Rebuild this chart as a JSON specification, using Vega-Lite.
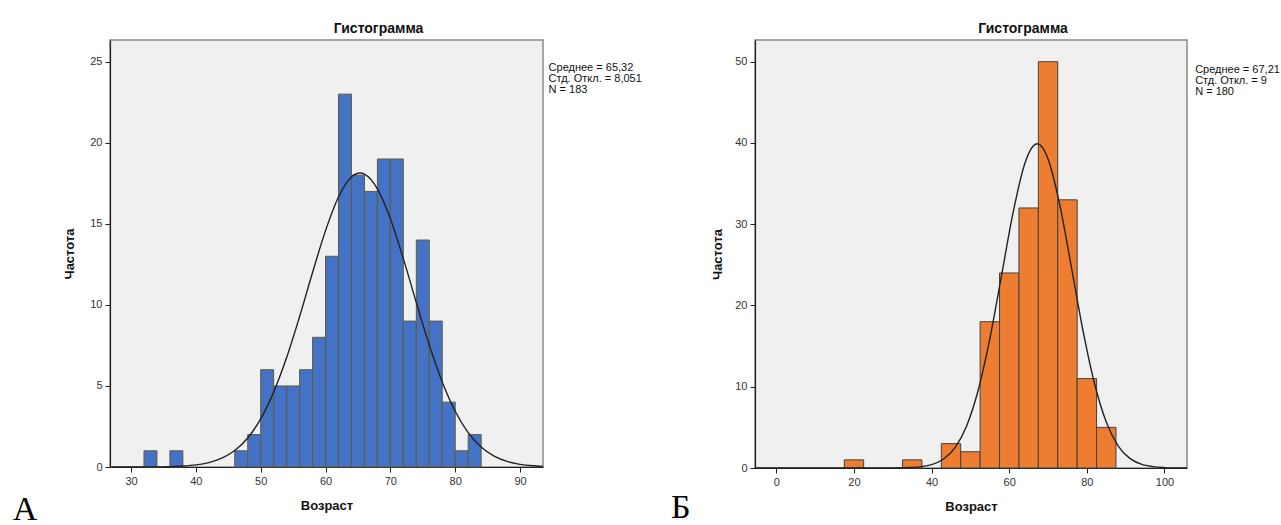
{
  "$schema": "https://vega.github.io/schema/vega-lite/v6.json",
  "padding": {"left": 12, "top": 21, "right": 5, "bottom": 0},
  "bounds": "flush",
  "spacing": 212,
  "config": {
    "font": "Liberation Sans",
    "view": {"fill": "#F0F0F0", "stroke": "#8a8a8a", "strokeWidth": 1.5},
    "axis": {"grid": false, "domainColor": "#222222", "tickColor": "#222222", "labelColor": "#333333", "labelFontSize": 11, "labelFont": "Liberation Sans", "titleFont": "Liberation Sans", "titleFontSize": 13, "titleFontWeight": "bold", "titleColor": "#111111", "tickSize": 5, "labelPadding": 3, "domainWidth": 1.2},
    "title": {"font": "Liberation Sans", "fontSize": 14, "fontWeight": "bold", "color": "#111111"}
  },
  "hconcat": [
    {
      "width": 433,
      "height": 427,
      "title": {"text": "Гистограмма", "dx": 52, "offset": 4},
      "layer": [
        {
          "data": {"values": [
            {"bin_start": 32, "bin_end": 34, "count": 1},
            {"bin_start": 36, "bin_end": 38, "count": 1},
            {"bin_start": 46, "bin_end": 48, "count": 1},
            {"bin_start": 48, "bin_end": 50, "count": 2},
            {"bin_start": 50, "bin_end": 52, "count": 6},
            {"bin_start": 52, "bin_end": 54, "count": 5},
            {"bin_start": 54, "bin_end": 56, "count": 5},
            {"bin_start": 56, "bin_end": 58, "count": 6},
            {"bin_start": 58, "bin_end": 60, "count": 8},
            {"bin_start": 60, "bin_end": 62, "count": 13},
            {"bin_start": 62, "bin_end": 64, "count": 23},
            {"bin_start": 64, "bin_end": 66, "count": 18},
            {"bin_start": 66, "bin_end": 68, "count": 17},
            {"bin_start": 68, "bin_end": 70, "count": 19},
            {"bin_start": 70, "bin_end": 72, "count": 19},
            {"bin_start": 72, "bin_end": 74, "count": 9},
            {"bin_start": 74, "bin_end": 76, "count": 14},
            {"bin_start": 76, "bin_end": 78, "count": 9},
            {"bin_start": 78, "bin_end": 80, "count": 4},
            {"bin_start": 80, "bin_end": 82, "count": 1},
            {"bin_start": 82, "bin_end": 84, "count": 2}
          ]},
          "mark": {"type": "rect", "fill": "#4472C4", "stroke": "#5f5b3f", "strokeWidth": 1},
          "encoding": {
            "x": {"field": "bin_start", "type": "quantitative", "scale": {"domain": [26.76, 93.54], "nice": false, "zero": false}, "axis": {"values": [30, 40, 50, 60, 70, 80, 90], "title": "Возраст", "titlePadding": 13}},
            "x2": {"field": "bin_end"},
            "y": {"field": "count", "type": "quantitative", "scale": {"domain": [0, 26.34], "nice": false}, "axis": {"values": [0, 5, 10, 15, 20, 25], "title": "Частота", "titlePadding": 13}},
            "y2": {"datum": 0}
          }
        },
        {
          "data": {"values": [
            {"age": 27, "freq": 0.0002}, {"age": 30, "freq": 0.0012}, {"age": 33, "freq": 0.0058},
            {"age": 36, "freq": 0.0239}, {"age": 38, "freq": 0.0573}, {"age": 40, "freq": 0.129},
            {"age": 42, "freq": 0.273}, {"age": 44, "freq": 0.545}, {"age": 46, "freq": 1.018},
            {"age": 48, "freq": 1.793}, {"age": 50, "freq": 2.965}, {"age": 52, "freq": 4.618},
            {"age": 54, "freq": 6.749}, {"age": 56, "freq": 9.28}, {"age": 58, "freq": 11.997},
            {"age": 60, "freq": 14.58}, {"age": 62, "freq": 16.658}, {"age": 64, "freq": 17.894},
            {"age": 65.32, "freq": 18.136}, {"age": 66, "freq": 18.071}, {"age": 68, "freq": 17.159},
            {"age": 70, "freq": 15.316}, {"age": 72, "freq": 12.855}, {"age": 74, "freq": 10.144},
            {"age": 76, "freq": 7.525}, {"age": 78, "freq": 5.247}, {"age": 80, "freq": 3.44},
            {"age": 82, "freq": 2.12}, {"age": 84, "freq": 1.229}, {"age": 86, "freq": 0.67},
            {"age": 88, "freq": 0.343}, {"age": 90, "freq": 0.165}, {"age": 92, "freq": 0.0748},
            {"age": 93.54, "freq": 0.0396}
          ]},
          "mark": {"type": "line", "color": "#222222", "strokeWidth": 1.4, "interpolate": "monotone"},
          "encoding": {
            "x": {"field": "age", "type": "quantitative", "axis": {"title": "Возраст"}},
            "y": {"field": "freq", "type": "quantitative", "axis": {"title": "Частота"}}
          }
        },
        {
          "data": {"values": [{"panel": "A"}]},
          "mark": {"type": "text", "align": "left", "baseline": "top", "fontSize": 11, "lineHeight": 11, "color": "#111111", "text": ["Среднее = 65,32", "\u00a0Стд. Откл. = 8,051", "N = 183"]},
          "encoding": {"x": {"datum": 94.4}, "y": {"datum": 25}}
        },
        {
          "data": {"values": [{"panel": "A"}]},
          "mark": {"type": "text", "align": "center", "baseline": "alphabetic", "font": "Liberation Serif", "fontSize": 34, "color": "#000000", "text": "А"},
          "encoding": {"x": {"datum": 13.66}, "y": {"datum": -3.25}}
        }
      ]
    },
    {
      "width": 432,
      "height": 428,
      "title": {"text": "Гистограмма", "dx": 52, "offset": 4},
      "layer": [
        {
          "data": {"values": [
            {"bin_start": 17.5, "bin_end": 22.5, "count": 1},
            {"bin_start": 32.5, "bin_end": 37.5, "count": 1},
            {"bin_start": 42.5, "bin_end": 47.5, "count": 3},
            {"bin_start": 47.5, "bin_end": 52.5, "count": 2},
            {"bin_start": 52.5, "bin_end": 57.5, "count": 18},
            {"bin_start": 57.5, "bin_end": 62.5, "count": 24},
            {"bin_start": 62.5, "bin_end": 67.5, "count": 32},
            {"bin_start": 67.5, "bin_end": 72.5, "count": 50},
            {"bin_start": 72.5, "bin_end": 77.5, "count": 33},
            {"bin_start": 77.5, "bin_end": 82.5, "count": 11},
            {"bin_start": 82.5, "bin_end": 87.5, "count": 5}
          ]},
          "mark": {"type": "rect", "fill": "#ED7D31", "stroke": "#404040", "strokeWidth": 1},
          "encoding": {
            "x": {"field": "bin_start", "type": "quantitative", "scale": {"domain": [-5.5, 105.8], "nice": false, "zero": false}, "axis": {"values": [0, 20, 40, 60, 80, 100], "title": "Возраст", "titlePadding": 13}},
            "x2": {"field": "bin_end"},
            "y": {"field": "count", "type": "quantitative", "scale": {"domain": [0, 52.67], "nice": false}, "axis": {"values": [0, 10, 20, 30, 40, 50], "title": "Частота", "titlePadding": 10}},
            "y2": {"datum": 0}
          }
        },
        {
          "data": {"values": [
            {"age": -5.5, "freq": 0}, {"age": 10, "freq": 0}, {"age": 20, "freq": 0.00004},
            {"age": 30, "freq": 0.0077}, {"age": 35, "freq": 0.066}, {"age": 40, "freq": 0.413},
            {"age": 43, "freq": 1.071}, {"age": 46, "freq": 2.482}, {"age": 49, "freq": 5.15},
            {"age": 52, "freq": 9.566}, {"age": 55, "freq": 15.894}, {"age": 58, "freq": 23.633},
            {"age": 61, "freq": 31.445}, {"age": 64, "freq": 37.437}, {"age": 66, "freq": 39.535},
            {"age": 67.21, "freq": 39.894}, {"age": 68.5, "freq": 39.486}, {"age": 70, "freq": 38.023},
            {"age": 73, "freq": 32.438}, {"age": 76, "freq": 24.762}, {"age": 79, "freq": 16.915},
            {"age": 82, "freq": 10.341}, {"age": 85, "freq": 5.657}, {"age": 88, "freq": 2.768},
            {"age": 91, "freq": 1.213}, {"age": 94, "freq": 0.475}, {"age": 97, "freq": 0.167},
            {"age": 100, "freq": 0.0523}, {"age": 103, "freq": 0.0147}, {"age": 105.8, "freq": 0.004}
          ]},
          "mark": {"type": "line", "color": "#222222", "strokeWidth": 1.4, "interpolate": "monotone"},
          "encoding": {
            "x": {"field": "age", "type": "quantitative", "axis": {"title": "Возраст"}},
            "y": {"field": "freq", "type": "quantitative", "axis": {"title": "Частота"}}
          }
        },
        {
          "data": {"values": [{"panel": "Б"}]},
          "mark": {"type": "text", "align": "left", "baseline": "top", "fontSize": 11, "lineHeight": 11, "color": "#111111", "text": ["Среднее = 67,21", "\u00a0Стд. Откл. = 9", "N = 180"]},
          "encoding": {"x": {"datum": 107.9}, "y": {"datum": 49.7}}
        },
        {
          "data": {"values": [{"panel": "Б"}]},
          "mark": {"type": "text", "align": "center", "baseline": "alphabetic", "font": "Liberation Serif", "fontSize": 34, "color": "#000000", "text": "Б"},
          "encoding": {"x": {"datum": -24.6}, "y": {"datum": -6.2}}
        }
      ]
    }
  ]
}
